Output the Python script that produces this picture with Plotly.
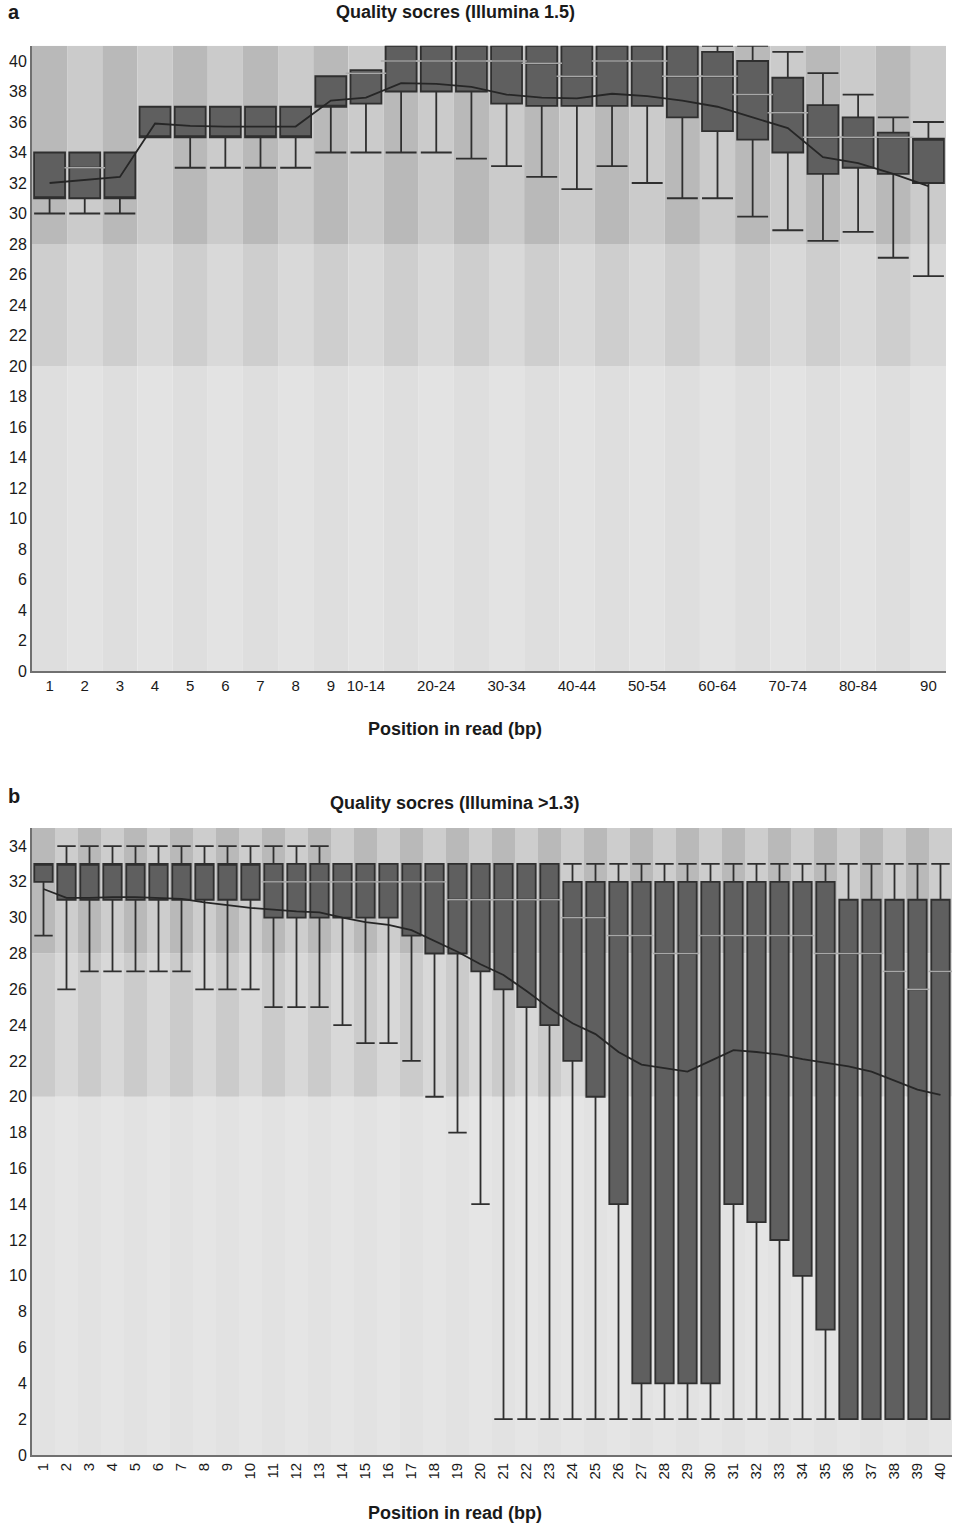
import plotly.graph_objects as go

# ---------------- Panel a data (Illumina 1.5) ----------------
a_labels = ["1", "2", "3", "4", "5", "6", "7", "8", "9", "10-14", "15-19", "20-24",
            "25-29", "30-34", "35-39", "40-44", "45-49", "50-54", "55-59", "60-64",
            "65-69", "70-74", "75-79", "80-84", "85-89", "90"]
a_tick_labels = ["1", "2", "3", "4", "5", "6", "7", "8", "9", "10-14", "20-24", "30-34",
                 "40-44", "50-54", "60-64", "70-74", "80-84", "90"]
a_lower = [30, 30, 30, 35, 33, 33, 33, 33, 34, 34, 34, 34, 33.6, 33.1, 32.4, 31.6,
           33.1, 32.0, 31.0, 31.0, 29.8, 28.9, 28.2, 28.8, 27.1, 25.9]
a_q1 = [31, 31, 31, 35, 35, 35, 35, 35, 37, 37.2, 38, 38, 38, 37.2, 37.05, 37.05,
        37.05, 37.05, 36.3, 35.4, 34.85, 34.0, 32.6, 33.0, 32.6, 32.0]
a_median = [31, 33, 31, 35, 35, 35, 35, 35, 37, 39.2, 40, 40, 40, 40, 39.85, 39.0,
            40, 40, 39.0, 39.0, 37.8, 36.6, 35.0, 35.0, 35.0, 34.9]
a_q3 = [34, 34, 34, 37, 37, 37, 37, 37, 39, 39.4, 41, 41, 41, 41, 41, 41,
        41, 41, 41, 40.6, 40.0, 38.9, 37.1, 36.3, 35.3, 34.9]
a_upper = [34, 34, 34, 37, 37, 37, 37, 37, 39, 39.4, 41, 41, 41, 41, 41, 41,
           41, 41, 41, 41, 41, 40.6, 39.2, 37.8, 36.3, 36.0]
a_mean = [32.0, 32.2, 32.4, 35.9, 35.75, 35.7, 35.7, 35.7, 37.4, 37.6, 38.55, 38.5,
          38.3, 37.8, 37.6, 37.55, 37.85, 37.7, 37.4, 37.0, 36.3, 35.6, 33.7, 33.3,
          32.6, 31.8]

# ---------------- Panel b data (Illumina >1.3) ----------------
b_labels = [str(i) for i in range(1, 41)]
b_lower = [29, 26, 27, 27, 27, 27, 27, 26, 26, 26, 25, 25, 25, 24, 23, 23, 22, 20, 18, 14,
           2, 2, 2, 2, 2, 2, 2, 2, 2, 2, 2, 2, 2, 2, 2, 2, 2, 2, 2, 2]
b_q1 = [32, 31, 31, 31, 31, 31, 31, 31, 31, 31, 30, 30, 30, 30, 30, 30, 29, 28, 28, 27,
        26, 25, 24, 22, 20, 14, 4, 4, 4, 4, 14, 13, 12, 10, 7, 2, 2, 2, 2, 2]
b_median = [33, 33, 33, 33, 33, 33, 33, 33, 33, 33, 32, 32, 32, 32, 32, 32, 32, 32, 31, 31,
            31, 31, 31, 30, 30, 29, 29, 28, 28, 29, 29, 29, 29, 29, 28, 28, 28, 27, 26, 27]
b_q3 = [33, 33, 33, 33, 33, 33, 33, 33, 33, 33, 33, 33, 33, 33, 33, 33, 33, 33, 33, 33,
        33, 33, 33, 32, 32, 32, 32, 32, 32, 32, 32, 32, 32, 32, 32, 31, 31, 31, 31, 31]
b_upper = [33, 34, 34, 34, 34, 34, 34, 34, 34, 34, 34, 34, 34, 33, 33, 33, 33, 33, 33, 33,
           33, 33, 33, 33, 33, 33, 33, 33, 33, 33, 33, 33, 33, 33, 33, 33, 33, 33, 33, 33]
b_mean = [31.6, 31.1, 31.1, 31.15, 31.15, 31.1, 31.05, 30.85, 30.7, 30.55, 30.45, 30.35,
          30.3, 30.0, 29.75, 29.6, 29.3, 28.7, 28.1, 27.4, 26.8, 25.9, 24.95, 24.1, 23.5,
          22.5, 21.8, 21.6, 21.4, 22.0, 22.6, 22.5, 22.35, 22.1, 21.9, 21.7, 21.4, 20.9,
          20.4, 20.1]

# Quality zones (lower bound, upper bound, dark stripe colour, light stripe colour)
a_zones = [(0, 20, "#dedede", "#e3e3e3"), (20, 28, "#cecece", "#d9d9d9"),
           (28, 41, "#b9b9b9", "#cbcbcb")]
b_zones = [(0, 20, "#e2e2e2", "#e5e5e5"), (20, 28, "#cbcbcb", "#d8d8d8"),
           (28, 35, "#b9b9b9", "#cdcdcd")]

FONT = "Liberation Sans, Arial, Helvetica, sans-serif"
BOX_FILL = "#5f5f5f"
BOX_LINE = "#2f2f2f"
MED_COL = "#a8a8a8"
MEAN_COL = "#262626"

W, H = 962, 1537

fig = go.Figure()


def add_panel(labels, lower, q1, med, q3, upper, mean, xa, ya, box_w, med_px):
    xs = list(range(len(labels)))
    fig.add_trace(go.Box(
        x=xs, q1=q1, median=med, q3=q3, lowerfence=lower, upperfence=upper,
        width=box_w, whiskerwidth=1, fillcolor=BOX_FILL,
        line=dict(color=BOX_LINE, width=1.8), boxpoints=False,
        xaxis=xa, yaxis=ya, showlegend=False, hoverinfo="skip"))
    mx = [x for x, a, m, b in zip(xs, q1, med, q3) if a < m < b]
    my = [m for a, m, b in zip(q1, med, q3) if a < m < b]
    fig.add_trace(go.Scatter(
        x=mx, y=my, mode="markers", xaxis=xa, yaxis=ya, showlegend=False,
        marker=dict(symbol="line-ew", size=med_px, color=MED_COL,
                    line=dict(color=MED_COL, width=1.5)),
        hoverinfo="skip"))
    fig.add_trace(go.Scatter(
        x=xs, y=mean, mode="lines", xaxis=xa, yaxis=ya, showlegend=False,
        line=dict(color=MEAN_COL, width=1.8), hoverinfo="skip"))


def add_stripes(n, zones, xref, yref):
    for i in range(n):
        for lo, hi, dark, light in zones:
            fig.add_shape(type="rect", xref=xref, yref=yref,
                          x0=i - 0.5, x1=i + 0.5, y0=lo, y1=hi,
                          fillcolor=dark if i % 2 == 0 else light,
                          line=dict(width=0), layer="below")


add_stripes(len(a_labels), a_zones, "x", "y")
add_stripes(len(b_labels), b_zones, "x2", "y2")

add_panel(a_labels, a_lower, a_q1, a_median, a_q3, a_upper, a_mean, "x", "y", 0.88, 29)
add_panel(b_labels, b_lower, b_q1, b_median, b_q3, b_upper, b_mean, "x2", "y2", 0.8, 17)

a_tickvals = [a_labels.index(t) for t in a_tick_labels]

axis_common = dict(showgrid=False, zeroline=False, showline=True,
                   linecolor="#707070", linewidth=2, ticks="",
                   tickfont=dict(family=FONT, size=16, color="#1a1a1a"))
xfont = dict(family=FONT, size=15, color="#1a1a1a")

fig.update_layout(
    width=W, height=H,
    margin=dict(l=0, r=0, t=0, b=0),
    paper_bgcolor="white", plot_bgcolor="white",
    font=dict(family=FONT, color="#1a1a1a"),
    showlegend=False,
    xaxis=dict(domain=[32 / W, 946 / W], anchor="y", range=[-0.5, len(a_labels) - 0.5],
               tickmode="array", tickvals=a_tickvals, ticktext=a_tick_labels,
               **{**axis_common, "tickfont": xfont}),
    yaxis=dict(domain=[1 - 675 / H, 1 - 46 / H], anchor="x", range=[0, 41],
               tickmode="array", tickvals=list(range(0, 41, 2)), **axis_common),
    xaxis2=dict(domain=[32 / W, 952 / W], anchor="y2", range=[-0.5, len(b_labels) - 0.5],
                tickmode="array", tickvals=list(range(len(b_labels))), ticktext=b_labels,
                tickangle=-90, **{**axis_common, "tickfont": xfont}),
    yaxis2=dict(domain=[1 - 1463.5 / H, 1 - 833 / H], anchor="x2", range=[0, 35],
                tickmode="array", tickvals=list(range(0, 35, 2)), **axis_common),
)

annots = [
    ("<b>a</b>", 14, 12, 20),
    ("<b>Quality socres (Illumina 1.5)</b>", 455, 12, 18),
    ("<b>Position in read (bp)</b>", 455, 733, 18),
    ("<b>b</b>", 14, 801, 20),
    ("<b>Quality socres (Illumina >1.3)</b>", 455, 808, 18),
    ("<b>Position in read (bp)</b>", 455, 1522, 18),
]
for text, px, py, size in annots:
    fig.add_annotation(text=text, xref="paper", yref="paper", x=px / W, y=1 - py / H,
                       xanchor="center", yanchor="middle", showarrow=False,
                       font=dict(family=FONT, size=size, color="#1a1a1a"))

fig.write_html("out.html")
